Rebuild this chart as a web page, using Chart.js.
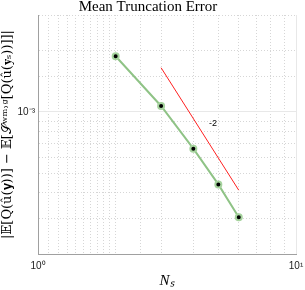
<!DOCTYPE html>
<html>
<head>
<meta charset="utf-8">
<script src="https://cdn.jsdelivr.net/npm/chart.js@4/dist/chart.umd.min.js"></script>
<style>
  html, body { margin: 0; padding: 0; background: #fff; }
  #wrap { width: 305px; height: 290px; }
</style>
</head>
<body>
<div id="wrap"><canvas id="errChart"></canvas></div>
<script>
// datos
var samples = [2, 3, 4, 5, 6];
var truncError = [1.88e-3, 1.07e-3, 6.6e-4, 4.4e-4, 3.03e-4];
var refSlopeX = [3, 6];
var refSlopeY = [1.65e-3, 4.12e-4];
var slopeLabel = '-2';
var slopeLabelAt = [4.77, 8.8e-4];
var xTickLabels = { 1: '10\u2070', 10: '10\u00b9' };
var yTickLabels = { 0.001: '10\u207b\u00b3' };

// texto de la pendiente en coordenadas de datos
var slopeText = {
    id: 'slopeText',
    afterDatasetsDraw: function(chart) {
        var ctx = chart.ctx;
        var px = chart.scales.x.getPixelForValue(slopeLabelAt[0]);
        var py = chart.scales.y.getPixelForValue(slopeLabelAt[1]);
        ctx.save();
        ctx.fillStyle = '#000';
        ctx.font = '9px "Liberation Sans", Arial, sans-serif';
        ctx.textAlign = 'center';
        ctx.textBaseline = 'middle';
        ctx.fillText(slopeLabel, px, py);
        ctx.restore();
    }
};

var gridColor = function(c) { return c.tick && c.tick.major ? '#e8e8e8' : '#d6d6d6'; };
var gridDash = function(c) { return c.tick && c.tick.major ? [] : [1, 2]; };

var errChart = new Chart(document.getElementById('errChart'), {
    type: 'line',
    data: {
        datasets: [{
            label: 'error',
            data: samples.map(function(n, i) { return { x: n, y: truncError[i] }; }),
            borderColor: '#8fc386',
            borderWidth: 2,
            pointBackgroundColor: '#000',
            pointBorderColor: '#a6d39e',
            pointBorderWidth: 2,
            pointRadius: 3,
            tension: 0
        }, {
            label: 'slope',
            data: refSlopeX.map(function(n, i) { return { x: n, y: refSlopeY[i] }; }),
            borderColor: '#ff2020',
            borderWidth: 1,
            pointRadius: 0,
            tension: 0
        }]
    },
    options: {
        responsive: true,
        maintainAspectRatio: false,
        animation: false,
        layout: { padding: { left: 0, right: 9, top: 0, bottom: 0 } },
        plugins: {
            legend: { display: false },
            tooltip: { enabled: false },
            title: {
                display: true,
                text: 'Mean Truncation Error',
                color: '#000',
                font: { family: '"Liberation Serif", "Times New Roman", serif', size: 15, weight: 'normal', lineHeight: 1 },
                padding: { top: 0, bottom: 0 }
            }
        },
        scales: {
            x: {
                type: 'logarithmic',
                min: 1,
                max: 10,
                grid: { color: gridColor, drawTicks: false },
                border: { display: true, color: '#a0a0a0', width: 1, dash: gridDash },
                ticks: {
                    autoSkip: false,
                    maxRotation: 0,
                    padding: 6,
                    color: '#222',
                    font: { family: '"Liberation Sans", Arial, sans-serif', size: 10 },
                    callback: function(v) { return xTickLabels[v] || ''; }
                },
                title: {
                    display: true,
                    text: 'N\u209b',
                    color: '#000',
                    font: { family: '"Liberation Serif", serif', size: 15, style: 'italic' },
                    padding: { top: 0, bottom: 0 }
                },
                afterFit: function(s) { s.height = 36; s.paddingLeft = 0; s.paddingRight = 0; }
            },
            y: {
                type: 'logarithmic',
                min: 2e-4,
                max: 3e-3,
                grid: { color: gridColor, drawTicks: false },
                border: { display: true, color: '#a0a0a0', width: 1, dash: gridDash },
                ticks: {
                    autoSkip: false,
                    padding: 3,
                    color: '#222',
                    font: { family: '"Liberation Sans", Arial, sans-serif', size: 10 },
                    callback: function(v) { return yTickLabels[v] || ''; }
                },
                title: {
                    display: true,
                    text: '|\uD835\uDD3C[Q(\u00fb(\uD835\uDC32))] \u2212 \uD835\uDD3C[\uD835\uDCAE\u02b7\u1d50\u02d2\u1d4d[Q(\u00fb(\uD835\uDC32\u209b))]]|',
                    color: '#000',
                    font: { family: '"DejaVu Serif", "Liberation Serif", serif', size: 13 },
                    padding: { top: 0, bottom: 0 }
                },
                afterFit: function(s) { s.width = 38; }
            }
        }
    },
    plugins: [slopeText]
});
</script>
</body>
</html>
